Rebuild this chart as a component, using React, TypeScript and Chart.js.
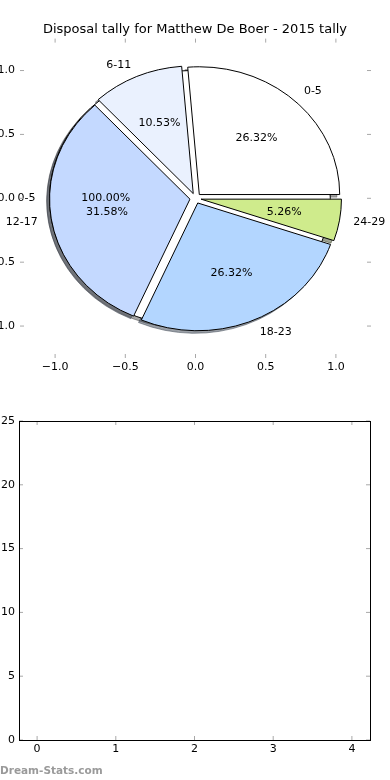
import React, { useEffect, useRef } from "react";
import { Chart, registerables } from "chart.js";

Chart.register(...registerables);

// ---------- data ----------
const TITLE = "Disposal tally for Matthew De Boer - 2015 tally";
const categories = ["0-5", "6-11", "12-17", "18-23", "24-29"];
const disposalCounts = [5, 2, 6, 5, 1];
const sliceColors = ["#ffffff", "#eaf1fe", "#c4d9ff", "#b3d6ff", "#cfeb8c"];
// an earlier single-slice pie left underneath on the same axes
const firstPieCategories = ["0-5"];
const firstPieCounts = [1];
const pieTicks = [-1, -0.5, 0, 0.5, 1];
const lowerXTicks = [0, 1, 2, 3, 4];
const lowerYTicks = [0, 5, 10, 15, 20, 25];
const WATERMARK = "Dream-Stats.com";

// ---------- style ----------
const FONT = '"DejaVu Sans", "Liberation Sans", sans-serif';
const EXPLODE = 0.04;
const SHADOW_OFFSET = -0.02;
const TICK_COLOR = "#a8a8a8";
const DEG = Math.PI / 180;

type Wedge = { t1: number; t2: number; mid: number; frac: number; ox: number; oy: number };

function buildWedges(counts: number[]): Wedge[] {
  const total = counts.reduce((a, b) => a + b, 0);
  let start = 0;
  return counts.map((v) => {
    const frac = v / total;
    const t1 = start * 360;
    const t2 = (start + frac) * 360;
    start += frac;
    const mid = ((t1 + t2) / 2) * DEG;
    return { t1, t2, mid, frac, ox: EXPLODE * Math.cos(mid), oy: EXPLODE * Math.sin(mid) };
  });
}

function wedgePath(ctx: CanvasRenderingContext2D, xs: any, ys: any, cx: number, cy: number, t1: number, t2: number) {
  const px = xs.getPixelForValue(cx);
  const py = ys.getPixelForValue(cy);
  const rx = xs.getPixelForValue(cx + 1) - px;
  const ry = py - ys.getPixelForValue(cy + 1);
  ctx.beginPath();
  if (t2 - t1 >= 359.9999) {
    ctx.ellipse(px, py, rx, ry, 0, 0, Math.PI * 2);
    ctx.closePath();
    return;
  }
  ctx.moveTo(px, py);
  ctx.ellipse(px, py, rx, ry, 0, -t1 * DEG, -t2 * DEG, true);
  ctx.closePath();
}

function shadowColor(hex: string) {
  const r = parseInt(hex.slice(1, 3), 16) * 0.3;
  const g = parseInt(hex.slice(3, 5), 16) * 0.3;
  const b = parseInt(hex.slice(5, 7), 16) * 0.3;
  return `rgba(${r.toFixed(0)},${g.toFixed(0)},${b.toFixed(0)},0.5)`;
}

const piePlugin = {
  id: "explodedPie",
  afterDatasetsDraw(chart: any) {
    const ctx: CanvasRenderingContext2D = chart.ctx;
    const xs = chart.scales.x;
    const ys = chart.scales.y;
    const pies = [
      { counts: firstPieCounts, labels: firstPieCategories },
      { counts: disposalCounts, labels: categories },
    ].map((p) => ({ ...p, wedges: buildWedges(p.counts) }));

    ctx.save();
    ctx.lineJoin = "miter";
    ctx.lineWidth = 1;
    // shadows (drawn beneath every wedge)
    pies.forEach((p) =>
      p.wedges.forEach((w, i) => {
        wedgePath(ctx, xs, ys, w.ox + SHADOW_OFFSET, w.oy + SHADOW_OFFSET, w.t1, w.t2);
        const c = shadowColor(sliceColors[i % sliceColors.length]);
        ctx.fillStyle = c;
        ctx.strokeStyle = c;
        ctx.fill();
        ctx.stroke();
      })
    );
    // wedges
    pies.forEach((p) =>
      p.wedges.forEach((w, i) => {
        wedgePath(ctx, xs, ys, w.ox, w.oy, w.t1, w.t2);
        ctx.fillStyle = sliceColors[i % sliceColors.length];
        ctx.strokeStyle = "#000";
        ctx.fill();
        ctx.stroke();
      })
    );
    // labels
    ctx.fillStyle = "#000";
    ctx.font = `11px ${FONT}`;
    ctx.textBaseline = "middle";
    pies.forEach((p) =>
      p.wedges.forEach((w, i) => {
        const lx = w.ox + 1.1 * Math.cos(w.mid);
        const ly = w.oy + 1.1 * Math.sin(w.mid);
        ctx.textAlign = lx < 0 ? "right" : "left";
        ctx.fillText(p.labels[i], xs.getPixelForValue(lx), ys.getPixelForValue(ly));
        const ax = w.ox + 0.6 * Math.cos(w.mid);
        const ay = w.oy + 0.6 * Math.sin(w.mid);
        ctx.textAlign = "center";
        ctx.fillText((w.frac * 100).toFixed(2) + "%", xs.getPixelForValue(ax), ys.getPixelForValue(ay));
      })
    );
    ctx.restore();
  },
};

function tickMarkPlugin(id: string, frame: boolean, watermark: boolean) {
  return {
    id,
    afterDraw(chart: any) {
      const ctx: CanvasRenderingContext2D = chart.ctx;
      const { left, right, top, bottom } = chart.chartArea;
      const xs = chart.scales.x;
      const ys = chart.scales.y;
      ctx.save();
      ctx.strokeStyle = TICK_COLOR;
      ctx.lineWidth = 1;
      ctx.beginPath();
      xs.ticks.forEach((t: any) => {
        const x = xs.getPixelForValue(t.value);
        ctx.moveTo(x, top);
        ctx.lineTo(x, top + 4);
        ctx.moveTo(x, bottom);
        ctx.lineTo(x, bottom - 4);
      });
      ys.ticks.forEach((t: any) => {
        const y = ys.getPixelForValue(t.value);
        ctx.moveTo(left, y);
        ctx.lineTo(left + 4, y);
        ctx.moveTo(right, y);
        ctx.lineTo(right - 4, y);
      });
      ctx.stroke();
      if (frame) {
        ctx.strokeStyle = "#000";
        ctx.lineWidth = 1;
        ctx.strokeRect(Math.round(left) + 0.5, Math.round(top) + 0.5, Math.round(right - left), Math.round(bottom - top));
      }
      if (watermark) {
        ctx.fillStyle = "#9a9a9a";
        ctx.font = `bold 10.5px ${FONT}`;
        ctx.textAlign = "left";
        ctx.textBaseline = "middle";
        ctx.fillText(WATERMARK, 0, chart.height - 9);
      }
      ctx.restore();
    },
  };
}

const pieFmt = (v: number) => {
  const s = Math.abs(v).toFixed(1);
  return v < 0 ? "\u2212" + s : s;
};

function axis(
  min: number,
  max: number,
  ticks: number[],
  pos: string,
  size: number,
  fmt: (v: number) => string,
  padding: number
) {
  const horizontal = pos === "bottom";
  return {
    type: "linear",
    position: pos,
    min,
    max,
    grid: { display: false, drawTicks: false },
    border: { display: false },
    ticks: {
      font: { family: FONT, size: 11 },
      color: "#000",
      padding,
      autoSkip: false,
      maxRotation: 0,
      callback: (v: any) => fmt(Number(v)),
    },
    afterBuildTicks: (s: any) => {
      s.ticks = ticks.map((v) => ({ value: v }));
    },
    afterFit: (s: any) => {
      if (horizontal) s.height = size;
      else s.width = size;
      s.paddingLeft = 0;
      s.paddingRight = 0;
      s.paddingTop = 0;
      s.paddingBottom = 0;
    },
  };
}

// an empty right-hand spacer axis so the title centres over the plot
const spacerAxis = (size: number) => ({
  type: "linear",
  position: "right",
  display: true,
  grid: { display: false, drawTicks: false },
  border: { display: false },
  ticks: { display: false },
  afterFit: (s: any) => {
    s.width = size;
    s.paddingTop = 0;
    s.paddingBottom = 0;
  },
});

export default function App() {
  const topRef = useRef<HTMLCanvasElement | null>(null);
  const bottomRef = useRef<HTMLCanvasElement | null>(null);

  useEffect(() => {
    const top = new Chart(topRef.current as HTMLCanvasElement, {
      type: "scatter",
      data: { datasets: [] },
      options: {
        animation: false,
        responsive: false,
        devicePixelRatio: 1,
        layout: { padding: 0 },
        plugins: {
          legend: { display: false },
          tooltip: { enabled: false },
          title: {
            display: true,
            text: TITLE,
            color: "#000",
            font: { family: FONT, size: 13, weight: "normal" },
            padding: { top: 22, bottom: 1 },
          },
        },
        scales: {
          x: axis(-1.25, 1.25, pieTicks, "bottom", 32, pieFmt, 3),
          y: axis(-1.25, 1.25, pieTicks, "left", 20, pieFmt, 5),
          yRight: spacerAxis(19),
        },
      } as any,
      plugins: [piePlugin, tickMarkPlugin("pieTicks", false, false)],
    });

    const bottom = new Chart(bottomRef.current as HTMLCanvasElement, {
      type: "scatter",
      data: { datasets: [] },
      options: {
        animation: false,
        responsive: false,
        devicePixelRatio: 1,
        layout: { padding: { left: 0, right: 20, top: 21, bottom: 0 } },
        plugins: { legend: { display: false }, tooltip: { enabled: false }, title: { display: false } },
        scales: {
          x: axis(-0.23, 4.23, lowerXTicks, "bottom", 40, (v) => String(v), 3),
          y: axis(0, 25, lowerYTicks, "left", 19, (v) => String(v), 4),
        },
      } as any,
      plugins: [tickMarkPlugin("lowerTicks", true, true)],
    });

    return () => {
      top.destroy();
      bottom.destroy();
    };
  }, []);

  return (
    <div style={{ position: "absolute", left: 0, top: 0, width: 390, height: 780, background: "#fff" }}>
      <canvas
        ref={topRef}
        width={390}
        height={390}
        style={{ position: "absolute", left: 0, top: 0, width: 390, height: 390, display: "block" }}
      />
      <canvas
        ref={bottomRef}
        width={390}
        height={380}
        style={{ position: "absolute", left: 0, top: 400, width: 390, height: 380, display: "block" }}
      />
    </div>
  );
}
